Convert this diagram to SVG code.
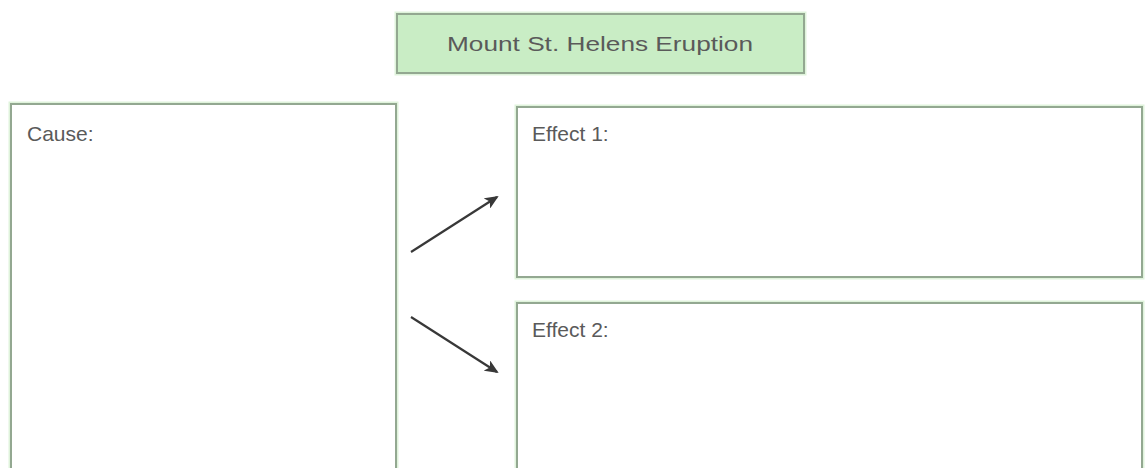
<svg xmlns="http://www.w3.org/2000/svg" width="1147" height="468" viewBox="0 0 1147 468">
  <style>
    .box { fill: #ffffff; stroke: #93a891; stroke-width: 2; }
    .title-box { fill: #c9edc5; stroke: #93a891; stroke-width: 2; }
    .halo { fill: none; stroke: #dff3db; stroke-width: 5; }
    .label { font-family: "Liberation Sans", Arial, sans-serif; font-size: 21px; fill: #5a5a5a; }
    .arrow { stroke: #383838; stroke-width: 2.2; fill: none; marker-end: url(#head); }
  </style>
  <defs>
    <marker id="head" viewBox="0 0 14 12" refX="12" refY="6" markerWidth="14" markerHeight="12" markerUnits="userSpaceOnUse" orient="auto">
      <path d="M0,0 L14,6 L0,12 L3.5,6 Z" fill="#383838"/>
    </marker>
  </defs>
  <rect width="1147" height="468" fill="#ffffff"/>

  <g id="title">
    <rect class="halo" x="397" y="14" width="407" height="59"/>
    <rect class="title-box" x="397" y="14" width="407" height="59"/>
    <text class="label" x="600" y="51" text-anchor="middle" textLength="306" lengthAdjust="spacingAndGlyphs">Mount St. Helens Eruption</text>
  </g>

  <g id="cause">
    <rect class="halo" x="11" y="104" width="385" height="366"/>
    <rect class="box" x="11" y="104" width="385" height="366"/>
    <text class="label" x="27" y="141">Cause:</text>
  </g>

  <g id="effect1">
    <rect class="halo" x="517" y="107" width="625" height="170"/>
    <rect class="box" x="517" y="107" width="625" height="170"/>
    <text class="label" x="532" y="141">Effect 1:</text>
  </g>

  <g id="effect2">
    <rect class="halo" x="517" y="303" width="625" height="170"/>
    <rect class="box" x="517" y="303" width="625" height="170"/>
    <text class="label" x="532" y="337">Effect 2:</text>
  </g>

  <g id="connectors">
    <line class="arrow" x1="411" y1="252" x2="497" y2="197"/>
    <line class="arrow" x1="411" y1="317" x2="497" y2="372"/>
  </g>
</svg>
